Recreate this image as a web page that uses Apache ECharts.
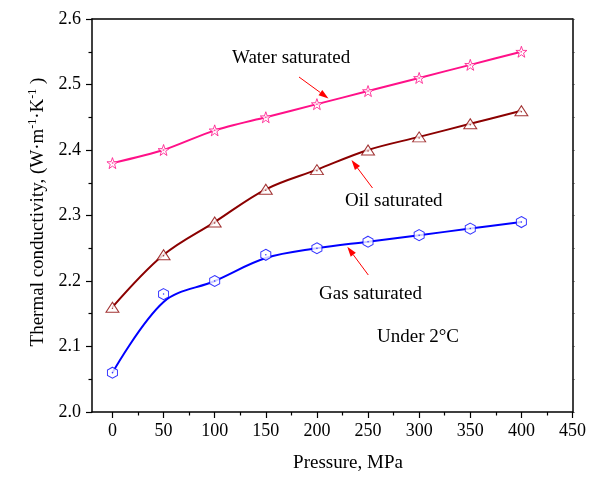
<!DOCTYPE html>
<html>
<head>
<meta charset="utf-8">
<script src="https://cdn.jsdelivr.net/npm/echarts@6/dist/echarts.min.js"></script>
<style>html,body{margin:0;padding:0;background:#fff}#c{width:603px;height:478px}</style>
</head>
<body>
<div id="c"></div>
<script>
const pressure = [0, 50, 100, 150, 200, 250, 300, 350, 400];
const waterSat = [2.38, 2.40, 2.43, 2.45, 2.47, 2.49, 2.51, 2.53, 2.55];
const oilSat   = [2.16, 2.24, 2.29, 2.34, 2.37, 2.40, 2.42, 2.44, 2.46];
const gasSat   = [2.06, 2.18, 2.20, 2.24, 2.25, 2.26, 2.27, 2.28, 2.29];
const gasCurve = [2.06, 2.168, 2.20, 2.235, 2.25, 2.26, 2.27, 2.28, 2.29];
const xMajorTicks = [0, 50, 100, 150, 200, 250, 300, 350, 400, 450];
const xMinorTicks = [25, 75, 125, 175, 225, 275, 325, 375, 425];

const FONT = "'Liberation Serif', 'Times New Roman', serif";
const pairs = (xs, ys) => xs.map((x, i) => [x, ys[i]]);

const STAR = 'path://M0,-1 L0.235,-0.324 L0.951,-0.309 L0.380,0.124 L0.588,0.809 L0,0.4 L-0.588,0.809 L-0.380,0.124 L-0.951,-0.309 L-0.235,-0.324 Z';
const HEX = 'path://M0,-1 L0.866,-0.5 L0.866,0.5 L0,1 L-0.866,0.5 L-0.866,-0.5 Z';

const PINK = '#ff1088', DARKRED = '#8b0000', BLUE = '#0000ff', RED = '#ff0000';

function arrow(t, h) {
  const dx = h[0] - t[0], dy = h[1] - t[1], L = Math.hypot(dx, dy);
  const ux = dx / L, uy = dy / L, hl = 10, hw = 3.2;
  const bx = h[0] - ux * hl, by = h[1] - uy * hl;
  return [
    {type: 'line', shape: {x1: t[0], y1: t[1], x2: bx, y2: by}, style: {stroke: RED, lineWidth: 1}},
    {type: 'polygon', shape: {points: [[h[0], h[1]], [bx - uy * hw, by + ux * hw], [bx + uy * hw, by - ux * hw]]}, style: {fill: RED}}
  ];
}
function label(txt, x, y, align) {
  return {type: 'text', x: x, y: y, style: {text: txt, font: '19px ' + FONT, fill: '#000', textAlign: align || 'left', textVerticalAlign: 'middle'}};
}

const axisLineStyle = {color: '#000', width: 1.5};
const chart = echarts.init(document.getElementById('c'));
chart.setOption({
  animation: false,
  backgroundColor: '#fff',
  grid: {left: 92, right: 30.5, top: 19, bottom: 66},
  xAxis: [
    {type: 'value', position: 'bottom', min: -20, max: 450,
     axisLine: {show: true, onZero: false, lineStyle: axisLineStyle},
     axisTick: {show: true, customValues: xMajorTicks, length: 6, lineStyle: {color: '#000', width: 1.2}},
     axisLabel: {show: true, customValues: xMajorTicks, margin: 10, fontFamily: FONT, fontSize: 18, color: '#000'},
     splitLine: {show: false}},
    {type: 'value', position: 'bottom', min: -20, max: 450,
     axisLine: {show: false, onZero: false},
     axisTick: {show: true, customValues: xMinorTicks, length: 3.5, lineStyle: {color: '#000', width: 1.2}},
     axisLabel: {show: false}, splitLine: {show: false}},
    {type: 'value', position: 'top', min: -20, max: 450,
     axisLine: {show: true, onZero: false, lineStyle: axisLineStyle},
     axisTick: {show: false}, axisLabel: {show: false}, splitLine: {show: false}}
  ],
  yAxis: [
    {type: 'value', position: 'left', min: 2.0, max: 2.6, interval: 0.1,
     axisLine: {show: true, onZero: false, lineStyle: axisLineStyle},
     axisTick: {show: true, length: 6, lineStyle: {color: '#000', width: 1.2}},
     minorTick: {show: true, splitNumber: 2, length: 3.5, lineStyle: {color: '#000', width: 1.2}},
     axisLabel: {show: true, margin: 11, fontFamily: FONT, fontSize: 18, color: '#000', formatter: v => v.toFixed(1)},
     splitLine: {show: false}},
    {type: 'value', position: 'right', min: 2.0, max: 2.6, interval: 0.1,
     axisLine: {show: true, onZero: false, lineStyle: axisLineStyle},
     axisTick: {show: true, length: 2, lineStyle: {color: '#333', width: 1}},
     minorTick: {show: true, splitNumber: 2, length: 2, lineStyle: {color: '#333', width: 1}},
     axisLabel: {show: false}, splitLine: {show: false}}
  ],
  series: [
    {name: 'Water line', type: 'line', data: pairs(pressure, waterSat), smooth: 0.25, showSymbol: false,
     lineStyle: {color: PINK, width: 2}, z: 2},
    {name: 'Oil line', type: 'line', data: pairs(pressure, oilSat), smooth: 0.35, showSymbol: false,
     lineStyle: {color: DARKRED, width: 2}, z: 2},
    {name: 'Gas line', type: 'line', data: pairs(pressure, gasCurve), smooth: 0.35, showSymbol: false,
     lineStyle: {color: BLUE, width: 2}, z: 2},
    {name: 'Water saturated', type: 'scatter', data: pairs(pressure, waterSat), symbol: STAR, symbolSize: [11, 11],
     itemStyle: {color: '#fff', borderColor: PINK, borderWidth: 1}, z: 3},
    {name: 'Oil saturated', type: 'scatter', data: pairs(pressure, oilSat), symbol: 'triangle', symbolSize: [13, 10],
     itemStyle: {color: '#fff', borderColor: DARKRED, borderWidth: 1}, z: 3},
    {name: 'Gas saturated', type: 'scatter', data: pairs(pressure, gasSat), symbol: HEX, symbolSize: [10, 11],
     itemStyle: {color: '#fff', borderColor: BLUE, borderWidth: 1}, z: 3},
    {type: 'scatter', data: pairs(pressure, waterSat), symbol: 'circle', symbolSize: 1.5, itemStyle: {color: PINK}, z: 4},
    {type: 'scatter', data: pairs(pressure, oilSat), symbol: 'circle', symbolSize: 1.5, symbolOffset: [0, 1], itemStyle: {color: DARKRED}, z: 4},
    {type: 'scatter', data: pairs(pressure, gasSat), symbol: 'circle', symbolSize: 1.5, itemStyle: {color: BLUE}, z: 4}
  ],
  graphic: [
    label('Water saturated', 232, 58),
    label('Oil saturated', 345, 201),
    label('Gas saturated', 319, 294.5),
    label('Under 2°C', 377, 337.5),
    label('Pressure, MPa', 348, 463, 'center'),
    ...arrow([299, 77], [328.5, 98.5]),
    ...arrow([372.5, 188], [351.5, 160]),
    ...arrow([368.3, 275], [347.3, 246.7]),
    {type: 'text', x: 38, y: 212, rotation: Math.PI / 2,
     style: {text: '{a|Thermal conductivity, (W·m}{s|-1}{a|·K}{s|-1}{a| )}',
       textAlign: 'center', textVerticalAlign: 'middle',
       rich: {a: {fontFamily: FONT, fontSize: 19, color: '#000', lineHeight: 22},
              s: {fontFamily: FONT, fontSize: 12, color: '#000', verticalAlign: 'top', lineHeight: 22}}}}
  ]
});
</script>
</body>
</html>
